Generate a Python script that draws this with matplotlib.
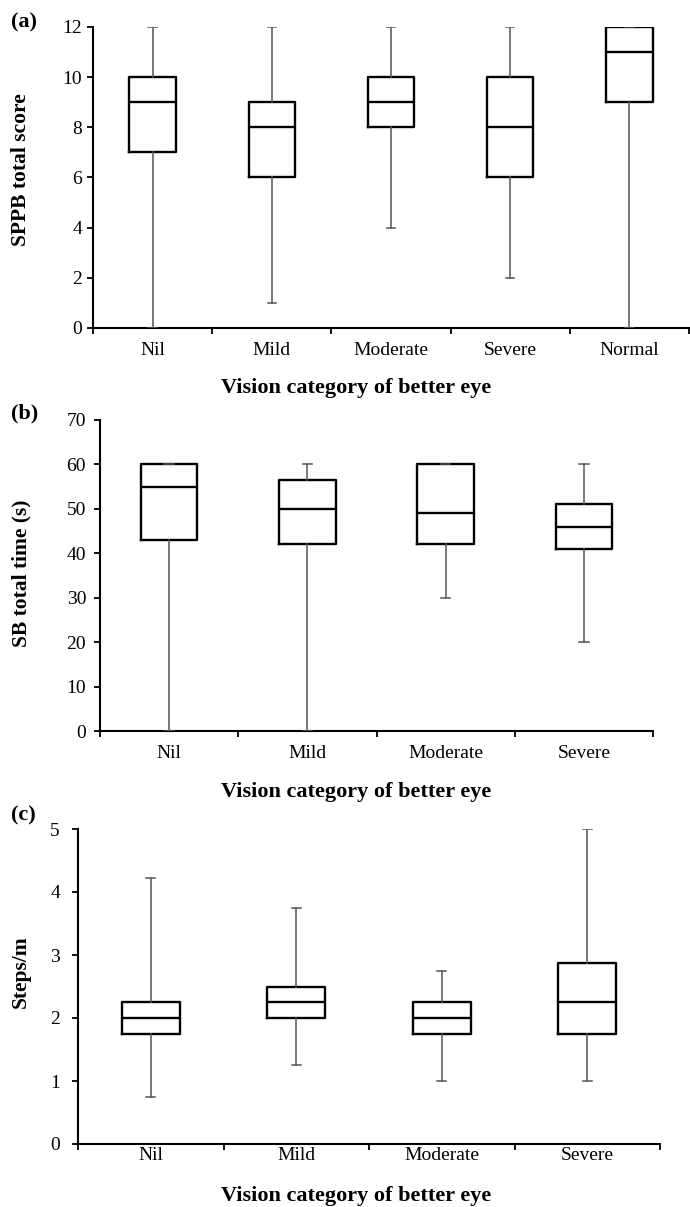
import matplotlib
matplotlib.use("Agg")
import matplotlib.pyplot as plt

plt.rcParams['font.family'] = ['Liberation Serif', 'DejaVu Serif']

# panel (a): SPPB total score
cats_a = ['Nil', 'Mild', 'Moderate', 'Severe', 'Normal']
lo_a = [0, 1, 4, 2, 0]
q1_a = [7, 6, 8, 6, 9]
med_a = [9, 8, 9, 8, 11]
q3_a = [10, 9, 10, 10, 12]
hi_a = [12, 12, 12, 12, 12]

# panel (b): SB total time (s)
cats_b = ['Nil', 'Mild', 'Moderate', 'Severe']
lo_b = [0, 0, 30, 20]
q1_b = [43, 42, 42, 41]
med_b = [55, 50, 49, 46]
q3_b = [60, 56.5, 60, 51]
hi_b = [60, 60, 60, 60]

# panel (c): steps/m
cats_c = ['Nil', 'Mild', 'Moderate', 'Severe']
lo_c = [0.75, 1.25, 1.0, 1.0]
q1_c = [1.75, 2.0, 1.75, 1.75]
med_c = [2.0, 2.25, 2.0, 2.25]
q3_c = [2.25, 2.5, 2.25, 2.87]
hi_c = [4.22, 3.75, 2.75, 5.0]

W, H = 690, 1207
fig = plt.figure(figsize=(W / 100, H / 100), dpi=100)


def px_axes(left, right, top, bottom):
    return fig.add_axes([left / W, 1 - bottom / H, (right - left) / W, (bottom - top) / H])


def draw_panel(ax, cats, lo, q1, med, q3, hi, ymax, ystep, box_w, cap_w, xpad, ypad):
    stats = [dict(whislo=a, q1=b, med=c, q3=d, whishi=e, fliers=[])
             for a, b, c, d, e in zip(lo, q1, med, q3, hi)]
    n = len(cats)
    pos = list(range(1, n + 1))
    ax.bxp(stats, positions=pos, widths=box_w, capwidths=cap_w, showfliers=False,
           boxprops=dict(color='black', linewidth=1.7),
           medianprops=dict(color='black', linewidth=1.7),
           whiskerprops=dict(color='#555555', linewidth=1.1),
           capprops=dict(color='#555555', linewidth=1.1))
    ax.set_xlim(0.5, n + 0.5)
    ax.set_ylim(0, ymax)
    ax.set_yticks([ystep * i for i in range(int(round(ymax / ystep)) + 1)])
    ax.set_xticks(pos)
    ax.set_xticklabels(cats)
    ax.set_xticks([i + 0.5 for i in range(n + 1)], minor=True)
    ax.tick_params(axis='x', which='major', length=0, pad=xpad, labelsize=14)
    ax.tick_params(axis='x', which='minor', length=4, width=1.3, direction='out')
    ax.tick_params(axis='y', length=4, width=1.3, direction='out', pad=ypad, labelsize=14)
    for s in ['top', 'right']:
        ax.spines[s].set_visible(False)
    for s in ['left', 'bottom']:
        ax.spines[s].set_linewidth(1.5)
    ax.spines['bottom'].set_zorder(0)


ax_a = px_axes(93, 689, 27, 328)
draw_panel(ax_a, cats_a, lo_a, q1_a, med_a, q3_a, hi_a, 12, 2, 0.39, 0.07, 10, 4)
ax_b = px_axes(100, 653, 420, 731)
draw_panel(ax_b, cats_b, lo_b, q1_b, med_b, q3_b, hi_b, 70, 10, 0.41, 0.07, 10, 6)
ax_c = px_axes(78, 660, 829, 1144)
draw_panel(ax_c, cats_c, lo_c, q1_c, med_c, q3_c, hi_c, 5, 1, 0.40, 0.06, 2, 9)

# axis titles and panel letters
xlab = 'Vision category of better eye'
for y in [388, 792, 1196]:
    fig.text(356 / W, 1 - y / H, xlab, ha='center', va='center',
             fontsize=16, fontweight='bold')
for y, lab in [(170, 'SPPB total score'), (573, 'SB total time (s)'), (972, 'Steps/m')]:
    fig.text(21 / W, 1 - y / H, lab, ha='center', va='center', rotation=90,
             fontsize=15.5, fontweight='bold')
for y, lab in [(22, '(a)'), (413, '(b)'), (815, '(c)')]:
    fig.text(11 / W, 1 - y / H, lab, ha='left', va='center',
             fontsize=16, fontweight='bold')

fig.savefig('out.png', dpi=100)
